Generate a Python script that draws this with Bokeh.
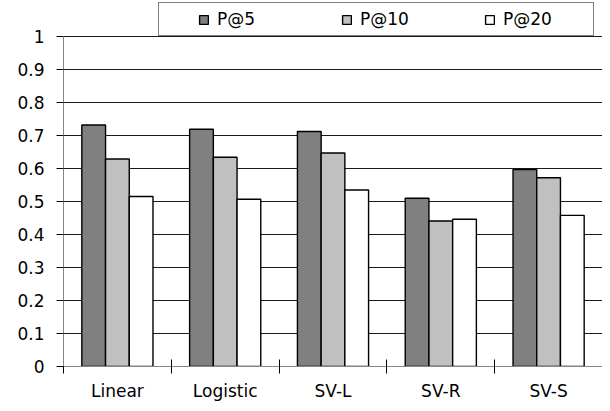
from bokeh.plotting import figure
from bokeh.models import (ColumnDataSource, Range1d, FixedTicker, Legend, LegendItem,
                          CustomJSTickFormatter)
from bokeh.transform import dodge
from bokeh.embed import file_html
from bokeh.resources import INLINE

categories = ["Linear", "Logistic", "SV-L", "SV-R", "SV-S"]
series_names = ["P@5", "P@10", "P@20"]
p_at_5 = [0.732, 0.719, 0.712, 0.510, 0.597]
p_at_10 = [0.629, 0.634, 0.647, 0.441, 0.572]
p_at_20 = [0.515, 0.507, 0.535, 0.446, 0.458]
y_ticks = [0, 0.1, 0.2, 0.3, 0.4, 0.5, 0.6, 0.7, 0.8, 0.9, 1.0]

FONT = "DejaVu Sans"
FS = "17px"

x_centers = [i + 0.5 for i in range(len(categories))]
source = ColumnDataSource(dict(x=x_centers, cat=categories,
                               p5=p_at_5, p10=p_at_10, p20=p_at_20))

# frame: x 63..602, y 0..366 ; value 1.0 sits at y=36 (room above for the legend)
p = figure(width=602, height=403, output_backend="svg", toolbar_location=None,
           x_range=Range1d(0, len(categories)), y_range=Range1d(0, 1 + 36 / 330),
           min_border_left=63, min_border_right=0, min_border_top=0,
           min_border_bottom=37)
p.outline_line_color = None
p.background_fill_color = "white"
p.border_fill_color = "white"

bw = 0.22
colors = ["#808080", "#c0c0c0", "#ffffff"]
fields = ["p5", "p10", "p20"]
offsets = [-bw, 0.0, bw]
renderers = []
for f, c, o in zip(fields, colors, offsets):
    r = p.vbar(x=dodge("x", o, range=p.x_range), top=f, width=bw, bottom=0,
               source=source, fill_color=c, line_color="#000000", line_width=1.4)
    renderers.append(r)

# axes
p.xgrid.visible = False
p.ygrid.ticker = FixedTicker(ticks=y_ticks[1:])
p.ygrid.grid_line_color = "#1a1a1a"
p.ygrid.grid_line_width = 1
p.ygrid.level = "underlay"

ya = p.yaxis[0]
ya.ticker = FixedTicker(ticks=y_ticks)
ya.bounds = (0, 1)
ya.formatter = CustomJSTickFormatter(code="return String(Math.round(tick*10)/10)")
ya.axis_line_color = "#868686"
ya.major_tick_line_color = "#000000"
ya.major_tick_in = 0
ya.major_tick_out = 7
ya.minor_tick_line_color = None
ya.major_label_text_font = FONT
ya.major_label_text_font_size = FS
ya.major_label_text_color = "#000000"
ya.major_label_standoff = 12

xa = p.xaxis[0]
xa.ticker = FixedTicker(ticks=x_centers, minor_ticks=list(range(len(categories) + 1)))
xa.major_label_overrides = {x: c for x, c in zip(x_centers, categories)}
xa.axis_line_color = "#868686"
xa.major_tick_line_color = None
xa.minor_tick_line_color = "#000000"
xa.minor_tick_in = 7
xa.minor_tick_out = 7
xa.major_label_text_font = FONT
xa.major_label_text_font_size = FS
xa.major_label_text_color = "#000000"
xa.major_label_standoff = 7

legend = Legend(items=[LegendItem(label=n, renderers=[r]) for n, r in zip(series_names, renderers)],
                orientation="horizontal", location=(95, 330),
                title=" ", title_location="left", title_standoff=13,
                title_text_font=FONT, title_text_font_size=FS,
                padding=6, spacing=40, label_width=84, label_standoff=8,
                glyph_width=11, glyph_height=11, label_height=11,
                label_text_font=FONT, label_text_font_size=FS, label_text_color="#000000",
                border_line_color="#000000", border_line_width=1,
                background_fill_color="white", background_fill_alpha=1.0, margin=0)
p.add_layout(legend, "center")

open("out.html", "w").write(file_html(p, INLINE))
